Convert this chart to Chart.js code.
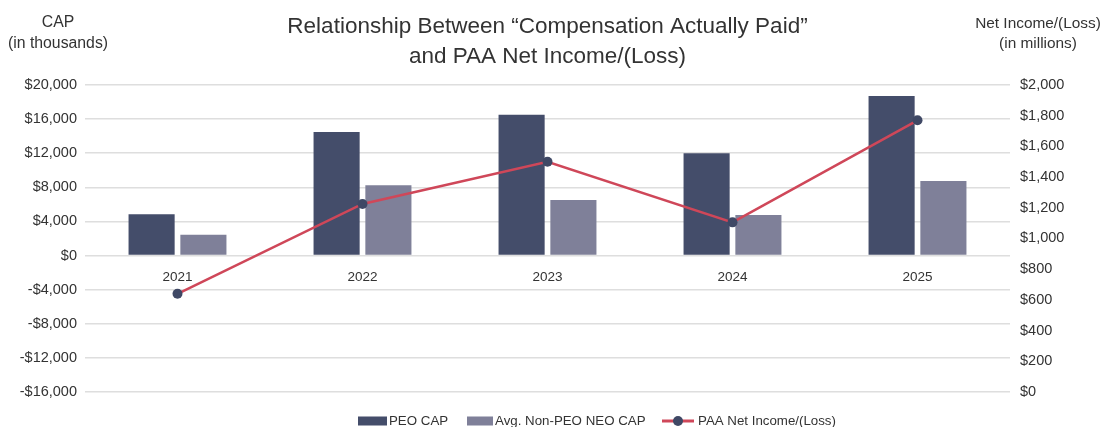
<!DOCTYPE html>
<html>
<head>
<meta charset="utf-8">
<script src="https://cdn.jsdelivr.net/npm/chart.js@4.4.1/dist/chart.umd.min.js"></script>
<style>
  html, body { margin: 0; padding: 0; background: #fff; }
  #wrap { width: 1105px; height: 427px; position: relative; }
</style>
</head>
<body>
<div id="wrap"><canvas id="c"></canvas></div>
<script>
const categories = ["2021", "2022", "2023", "2024", "2025"];
const peoCap = [4850, 14500, 16500, 12000, 18700];
const nonPeoCap = [2450, 8250, 6500, 4750, 8750];
const netIncome = [640, 1225, 1500, 1105, 1770];
const titleLines = ["Relationship Between \u201cCompensation Actually Paid\u201d", "and PAA Net Income/(Loss)"];
const leftAxisTitle = ["CAP", "(in thousands)"];
const rightAxisTitle = ["Net Income/(Loss)", "(in millions)"];
const legendLabels = ["PEO CAP", "Avg. Non-PEO NEO CAP", "PAA Net Income/(Loss)"];

const C_PEO = "#444d6a";
const C_NON = "#7f8099";
const C_RED = "#cf4759";
const C_DOT = "#3f4865";
const FONT = "'Liberation Sans', Arial, Helvetica, sans-serif";

function fmtMoney(v) {
  const s = "$" + Math.abs(v).toLocaleString("en-US");
  return v < 0 ? "-" + s : s;
}

const axisTitlesPlugin = {
  id: "axisTitles",
  afterDraw(chart) {
    const ctx = chart.ctx;
    ctx.save();
    ctx.fillStyle = "#333";
    ctx.font = "15.8px " + FONT;
    ctx.textAlign = "center";
    ctx.textBaseline = "middle";
    ctx.fillText(leftAxisTitle[0], 58, 23);
    ctx.fillText(leftAxisTitle[1], 58, 44);
    ctx.font = "15.4px " + FONT;
    ctx.fillText(rightAxisTitle[0], 1038, 24);
    ctx.fillText(rightAxisTitle[1], 1038, 44);
    ctx.restore();
  }
};

const legendPlugin = {
  id: "customLegend",
  afterDraw(chart) {
    const ctx = chart.ctx;
    const y = 421;
    ctx.save();
    ctx.font = "13.3px " + FONT;
    ctx.textAlign = "left";
    ctx.textBaseline = "middle";
    ctx.fillStyle = C_PEO;
    ctx.fillRect(358, y - 4.5, 29, 9);
    ctx.fillStyle = "#333";
    ctx.fillText(legendLabels[0], 389, y);
    ctx.fillStyle = C_NON;
    ctx.fillRect(467, y - 4.5, 26, 9);
    ctx.fillStyle = "#333";
    ctx.fillText(legendLabels[1], 495, y);
    ctx.strokeStyle = C_RED;
    ctx.lineWidth = 3;
    ctx.beginPath(); ctx.moveTo(662, y); ctx.lineTo(694, y); ctx.stroke();
    ctx.fillStyle = C_DOT;
    ctx.beginPath(); ctx.arc(678, y, 5, 0, Math.PI * 2); ctx.fill();
    ctx.fillStyle = "#333";
    ctx.fillText(legendLabels[2], 698, y);
    ctx.restore();
  }
};

new Chart(document.getElementById("c"), {
  type: "bar",
  data: {
    labels: categories,
    datasets: [
      {
        type: "line",
        label: legendLabels[2],
        data: netIncome,
        yAxisID: "y2",
        borderColor: C_RED,
        borderWidth: 2.5,
        pointRadius: 5,
        pointBackgroundColor: C_DOT,
        pointBorderColor: C_DOT,
        pointBorderWidth: 0,
        tension: 0,
        order: 0
      },
      {
        label: legendLabels[0],
        data: peoCap,
        yAxisID: "y",
        backgroundColor: C_PEO,
        categoryPercentage: 0.56,
        barPercentage: 0.89,
        order: 1
      },
      {
        label: legendLabels[1],
        data: nonPeoCap,
        yAxisID: "y",
        backgroundColor: C_NON,
        categoryPercentage: 0.56,
        barPercentage: 0.89,
        order: 1
      }
    ]
  },
  options: {
    responsive: true,
    maintainAspectRatio: false,
    animation: false,
    layout: { padding: { left: 0, right: 0, top: 0, bottom: 35 } },
    plugins: {
      tooltip: { enabled: false },
      legend: { display: false },
      title: {
        display: true,
        fullSize: false,
        text: titleLines,
        color: "#333",
        font: { family: FONT, size: 22.5, weight: "normal", lineHeight: 1.333 },
        padding: { top: 12, bottom: 13 }
      }
    },
    scales: {
      x: {
        position: { y: 0 },
        offset: true,
        grid: { display: false },
        border: { display: false },
        ticks: { color: "#333", font: { family: FONT, size: 13.5 }, padding: 6 }
      },
      y: {
        position: "left",
        min: -16000,
        max: 20000,
        ticks: { stepSize: 4000, color: "#333", font: { family: FONT, size: 14.5 }, padding: 8, callback: v => fmtMoney(v) },
        grid: { color: "#dedede", lineWidth: 1.5, drawTicks: false },
        border: { display: false },
        afterFit(s) { s.width = 85; }
      },
      y2: {
        position: "right",
        min: 0,
        max: 2000,
        ticks: { stepSize: 200, color: "#333", font: { family: FONT, size: 14.5 }, padding: 10, callback: v => fmtMoney(v) },
        grid: { display: false, drawTicks: false },
        border: { display: false },
        afterFit(s) { s.width = 95; }
      }
    }
  },
  plugins: [axisTitlesPlugin, legendPlugin]
});
</script>
</body>
</html>
